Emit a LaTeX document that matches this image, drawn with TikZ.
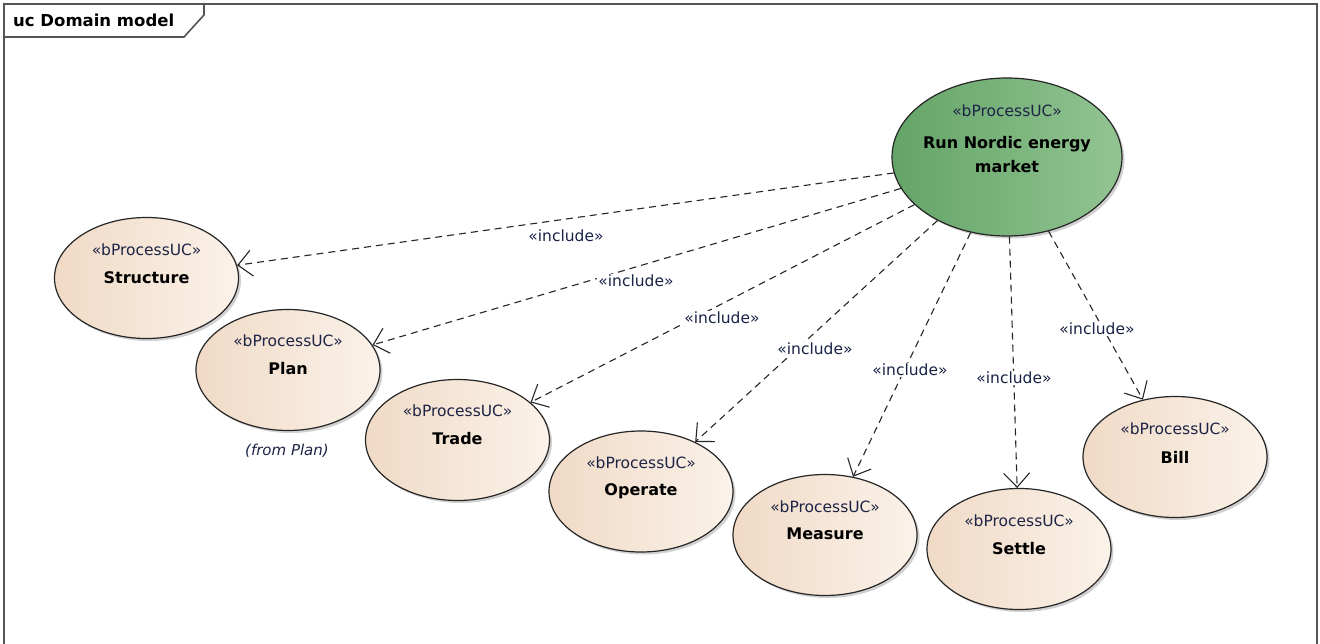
\documentclass[tikz,border=0pt]{standalone}
\usepackage{fontspec}
\setmainfont{DejaVu Sans}
\usetikzlibrary{shapes.geometric,arrows.meta,shadows}
\definecolor{framegray}{RGB}{85,85,85}
\definecolor{ucleft}{RGB}{240,218,198}
\definecolor{ucright}{RGB}{251,242,233}
\definecolor{runleft}{RGB}{100,164,104}
\definecolor{runright}{RGB}{146,196,146}
\definecolor{stereo}{RGB}{30,36,70}
\definecolor{lbl}{RGB}{25,35,70}
\tikzset{
  ucbox/.style={ellipse, draw=black!85, line width=1.2pt, minimum width=184pt, minimum height=121pt,
    left color=ucleft, right color=ucright,
    drop shadow={shadow xshift=2.5pt, shadow yshift=-2.5pt, fill=black, opacity=0.18}},
  runbox/.style={ellipse, draw=black!85, line width=1.2pt, minimum width=230pt, minimum height=158pt,
    left color=runleft, right color=runright,
    drop shadow={shadow xshift=2.5pt, shadow yshift=-2.5pt, fill=black, opacity=0.18}},
  sttext/.style={font=\fontsize{15.5}{18}\selectfont, text=stereo, inner sep=0pt},
  nmtext/.style={font=\fontsize{16}{24}\selectfont\bfseries, text=black, inner sep=0pt, align=center},
  inclabel/.style={font=\fontsize{15.5}{18}\selectfont, text=lbl, inner sep=1pt, fill=white},
  incl/.style={draw=black!85, line width=1.1pt, dash pattern=on 7pt off 5pt,
    -{Straight Barb[length=14pt, width=26pt, line width=1.1pt]}}
}
\begin{document}
\begin{tikzpicture}[x=1pt,y=-1pt]
\useasboundingbox (0,0) rectangle (1320,643);
\clip (0,0) rectangle (1320,643);
\fill[white] (0,0) rectangle (1320,643);
% frame
\draw[framegray, line width=2pt] (4,700) -- (4,4) -- (1317,4) -- (1317,700);
\draw[framegray, line width=1.6pt] (4,37) -- (184,37) -- (204,15) -- (204,4);
\node[font=\fontsize{16.5}{20}\selectfont\bfseries, anchor=west, inner sep=0pt] (title) at (13,20) {uc Domain model};

% use cases
\node[runbox] (run) at (1007,157) {};
\node[sttext] (runst) at (1007,111) {«bProcessUC»};
\node[nmtext] (runnm) at (1007,155) {Run Nordic energy\\market};

\node[ucbox] (structure) at (146.5,278) {};
\node[sttext] (structurest) at (146.5,250) {«bProcessUC»};
\node[nmtext] (structurenm) at (146.5,278) {Structure};

\node[ucbox] (plan) at (288,370) {};
\node[sttext] (planst) at (288,341) {«bProcessUC»};
\node[nmtext] (plannm) at (288,369) {Plan};
\node[font=\fontsize{15}{18}\selectfont\itshape, text=stereo, inner sep=0pt] (from) at (287,451) {(from Plan)};

\node[ucbox] (trade) at (457.5,440) {};
\node[sttext] (tradest) at (457.5,411) {«bProcessUC»};
\node[nmtext] (tradenm) at (457.5,439) {Trade};

\node[ucbox] (operate) at (641,491.5) {};
\node[sttext] (operatest) at (641,463) {«bProcessUC»};
\node[nmtext] (operatenm) at (641,491) {Operate};

\node[ucbox] (measure) at (825,535) {};
\node[sttext] (measurest) at (825,507) {«bProcessUC»};
\node[nmtext] (measurenm) at (825,534) {Measure};

\node[ucbox] (settle) at (1019,549) {};
\node[sttext] (settlest) at (1019,521) {«bProcessUC»};
\node[nmtext] (settlenm) at (1019,549) {Settle};

\node[ucbox] (bill) at (1175,457) {};
\node[sttext] (billst) at (1175,429) {«bProcessUC»};
\node[nmtext] (billnm) at (1175,457) {Bill};

% include relations
\draw[incl] (run) -- (structure);
\draw[incl] (run) -- (plan);
\draw[incl] (run) -- (trade);
\draw[incl] (run) -- (operate);
\draw[incl] (run) -- (measure);
\draw[incl] (run) -- (settle);
\draw[incl] (run) -- (bill);

% labels
\node[inclabel] (l1) at (566,236) {«include»};
\node[inclabel] (l2) at (636,281) {«include»};
\node[inclabel] (l3) at (722,318) {«include»};
\node[inclabel] (l4) at (815,349) {«include»};
\node[inclabel] (l5) at (910,370) {«include»};
\node[inclabel] (l6) at (1014,378) {«include»};
\node[inclabel] (l7) at (1097,329) {«include»};
\end{tikzpicture}
\end{document}
